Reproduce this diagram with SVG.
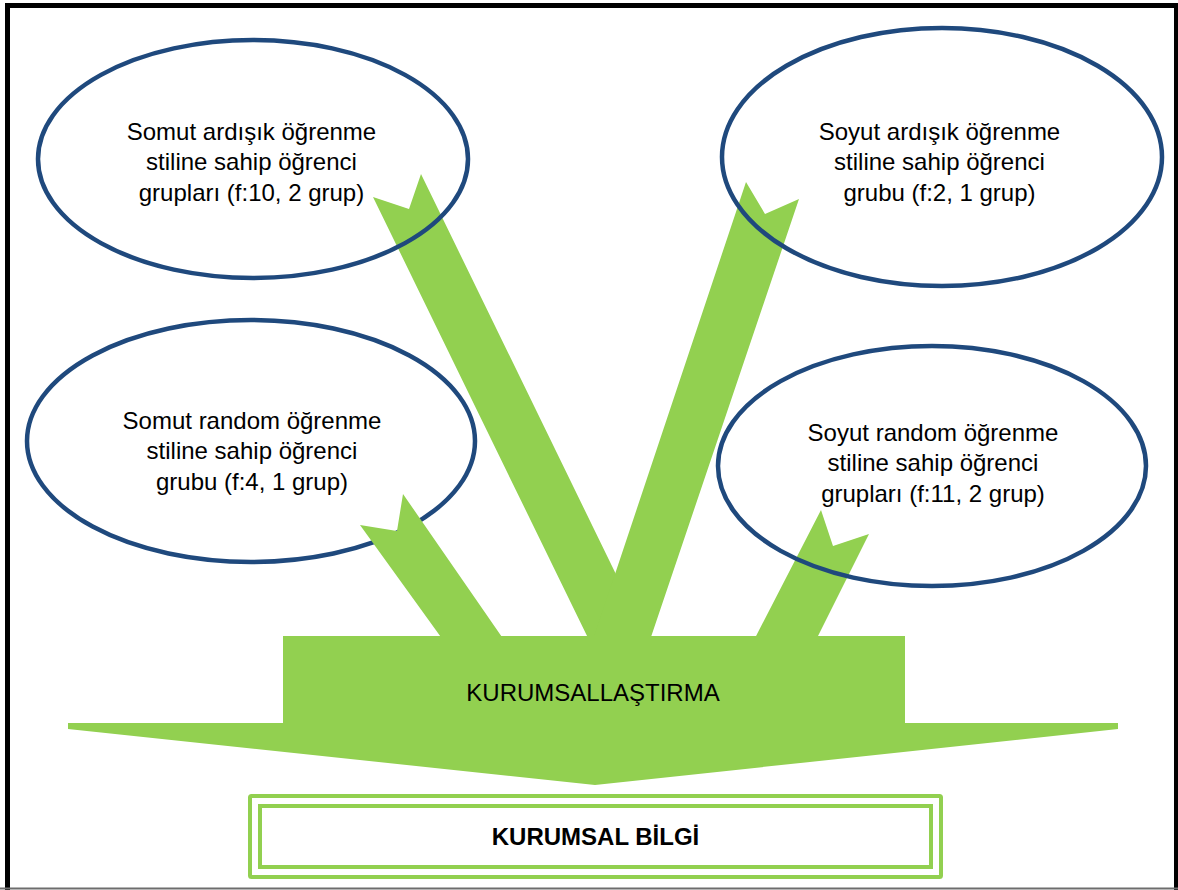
<svg xmlns="http://www.w3.org/2000/svg" width="1178" height="890" viewBox="0 0 1178 890">
  <style>
    .oval { fill: none; stroke: #1F497D; stroke-width: 4.5; }
    .flow { fill: #92D050; stroke: none; }
    .lbl { font-family: "Liberation Sans", Arial, sans-serif; font-size: 24px; fill: #000; text-anchor: middle; }
    .bold { font-weight: bold; }
    .frame-box { fill: none; stroke: #92D050; stroke-width: 4; }
  </style>

  <!-- page frame -->
  <rect x="0" y="0" width="1178" height="890" fill="#fff"/>
  <path d="M7.5,890 V5.5 H1176.5 V890" fill="none" stroke="#000" stroke-width="5"/>
  <line x1="0" y1="888.5" x2="1178" y2="888.5" stroke="#6d6d6d" stroke-width="2"/>

  <!-- lower-left group sits beneath its arrow -->
  <g id="node-somut-random">
    <ellipse class="oval" cx="251" cy="441" rx="224" ry="121"/>
    <text class="lbl" x="252" y="428.5">Somut random öğrenme</text>
    <text class="lbl" x="252" y="459">stiline sahip öğrenci</text>
    <text class="lbl" x="252" y="489.5">grubu (f:4, 1 grup)</text>
  </g>

  <g id="connectors">
    <polygon class="flow" points="373,197 409,209 421,174 648,640 589,640"/>
    <polygon class="flow" points="746,182 765,214 799,199 650,640 593,640"/>
    <polygon class="flow" points="360,525 397,531 403,494 504,640 443,640"/>
    <polygon class="flow" points="821,510 833,546 869,534 816,640 754,640"/>
  </g>

  <g id="node-kurumsallastirma">
    <rect class="flow" x="283" y="636" width="622" height="88"/>
    <polygon class="flow" points="68,723 1118,723 1118,729 595,785 68,729"/>
    <text class="lbl" x="593" y="701">KURUMSALLAŞTIRMA</text>
  </g>

  <g id="node-somut-ardisik">
    <ellipse class="oval" cx="253" cy="159" rx="215" ry="119"/>
    <text class="lbl" x="251.5" y="139.5">Somut ardışık öğrenme</text>
    <text class="lbl" x="251.5" y="170">stiline sahip öğrenci</text>
    <text class="lbl" x="251.5" y="200.5">grupları (f:10, 2 grup)</text>
  </g>

  <g id="node-soyut-ardisik">
    <ellipse class="oval" cx="942" cy="157" rx="220" ry="129"/>
    <text class="lbl" x="939.5" y="139.5">Soyut ardışık öğrenme</text>
    <text class="lbl" x="939.5" y="170">stiline sahip öğrenci</text>
    <text class="lbl" x="939.5" y="200.5">grubu (f:2, 1 grup)</text>
  </g>

  <g id="node-soyut-random">
    <ellipse class="oval" cx="932" cy="466" rx="214" ry="120"/>
    <text class="lbl" x="933" y="440.5">Soyut random öğrenme</text>
    <text class="lbl" x="933" y="471">stiline sahip öğrenci</text>
    <text class="lbl" x="933" y="501.5">grupları (f:11, 2 grup)</text>
  </g>

  <g id="node-kurumsal-bilgi">
    <rect class="frame-box" x="250" y="796" width="691" height="81" rx="1.5"/>
    <rect class="frame-box" x="260" y="806" width="671" height="61"/>
    <text class="lbl bold" x="595.5" y="845">KURUMSAL BİLGİ</text>
  </g>
</svg>
